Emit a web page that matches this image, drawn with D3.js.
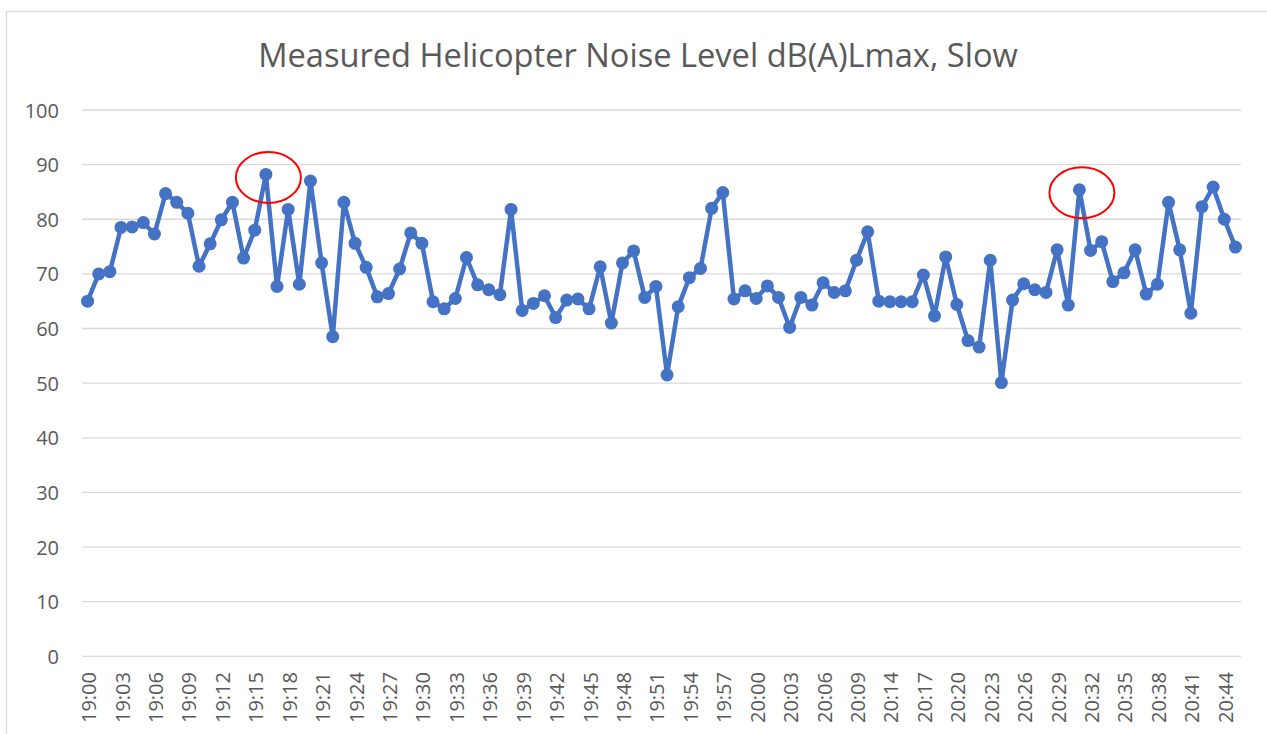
<!DOCTYPE html>
<html>
<head>
<meta charset="utf-8">
<script src="https://cdn.jsdelivr.net/npm/d3@7"></script>
<style>
  html, body { margin: 0; padding: 0; background: #fff; }
  svg { display: block; font-family: "Open Sans", "Noto Sans", sans-serif; }
  .grid line { stroke: #d9d9d9; stroke-width: 1.3; }
  .tick-label { fill: #595959; font-size: 20px; }
  .title { fill: #595959; }
</style>
</head>
<body>
<svg id="chart" width="1267" height="734"></svg>
<script>
const titleText = "Measured Helicopter Noise Level dB(A)Lmax, Slow"

// sample times (one reading per category)
const times = [
  "19:00","19:01","19:02","19:03","19:04","19:05","19:06","19:07","19:08","19:09",
  "19:10","19:11","19:12","19:13","19:14","19:15","19:16","19:17","19:18","19:19",
  "19:20","19:21","19:22","19:23","19:24","19:25","19:26","19:27","19:28","19:29",
  "19:30","19:31","19:32","19:33","19:34","19:35","19:36","19:37","19:38","19:39",
  "19:40","19:41","19:42","19:43","19:44","19:45","19:46","19:47","19:48","19:49",
  "19:50","19:51","19:52","19:53","19:54","19:55","19:56","19:57","19:58","19:59",
  "20:00","20:01","20:02","20:03","20:04","20:05","20:06","20:07","20:08","20:09",
  "20:11","20:12","20:14","20:15","20:16","20:17","20:18","20:19","20:20","20:21",
  "20:22","20:23","20:24","20:25","20:26","20:27","20:28","20:29","20:30","20:31",
  "20:32","20:33","20:34","20:35","20:36","20:37","20:38","20:39","20:40","20:41",
  "20:42","20:43","20:44","20:45"
]

// dB(A) Lmax readings
const levels = [
  65.0, 70.0, 70.4, 78.5, 78.6, 79.4, 77.3, 84.7, 83.1, 81.1,
  71.4, 75.5, 79.9, 83.1, 72.9, 78.0, 88.2, 67.7, 81.8, 68.1,
  87.0, 72.0, 58.5, 83.1, 75.6, 71.2, 65.8, 66.4, 70.9, 77.5,
  75.6, 64.9, 63.6, 65.5, 73.0, 68.0, 67.1, 66.2, 81.8, 63.3,
  64.6, 66.0, 62.0, 65.2, 65.4, 63.6, 71.3, 61.0, 72.0, 74.2,
  65.7, 67.7, 51.5, 64.0, 69.3, 71.0, 82.0, 84.9, 65.4, 66.9,
  65.5, 67.8, 65.7, 60.2, 65.7, 64.3, 68.4, 66.6, 66.9, 72.5,
  77.7, 65.0, 64.9, 64.9, 64.9, 69.8, 62.3, 73.1, 64.4, 57.8,
  56.6, 72.5, 50.1, 65.2, 68.2, 67.1, 66.6, 74.4, 64.3, 85.4,
  74.3, 75.9, 68.6, 70.2, 74.4, 66.3, 68.1, 83.1, 74.4, 62.8,
  82.3, 85.9, 80.0, 74.9
]

const yTicks = [0, 10, 20, 30, 40, 50, 60, 70, 80, 90, 100]
// every third category gets a label
const xTickLabels = times.filter((t, i) => i % 3 === 0)
// readings circled in red
const circled = ["19:16", "20:31"]

const data = times.map((t, i) => ({ t, v: levels[i] }))

const svg = d3.select("#chart")

// outer chart frame (right/bottom edges fall outside the picture)
svg.append("rect")
  .attr("x", 6.5).attr("y", 11.5).attr("width", 1400).attr("height", 900)
  .attr("fill", "#fff").attr("stroke", "#d9d9d9").attr("stroke-width", 1.3)

const x = d3.scaleBand().domain(times).range([82, 1241])
const y = d3.scaleLinear().domain([0, 100]).range([656.3, 110])
const cx = (t) => x(t) + x.bandwidth() / 2

// gridlines
svg.append("g").attr("class", "grid")
  .selectAll("line").data(yTicks).enter().append("line")
  .attr("x1", 82).attr("x2", 1241)
  .attr("y1", (d) => y(d)).attr("y2", (d) => y(d))

// y labels
svg.append("g").selectAll("text").data(yTicks).enter().append("text")
  .attr("class", "tick-label")
  .attr("x", 59).attr("y", (d) => y(d))
  .attr("text-anchor", "end").attr("dominant-baseline", "central")
  .text((d) => d)

// x labels, rotated
svg.append("g").selectAll("text").data(xTickLabels).enter().append("text")
  .attr("class", "tick-label")
  .attr("transform", (d) => `translate(${cx(d) + 1},672) rotate(-90)`)
  .attr("text-anchor", "end").attr("dominant-baseline", "central")
  .text((d) => d)

// title, fitted to the reference width
const title = svg.append("text").attr("class", "title")
  .attr("x", 638).attr("y", 67).attr("text-anchor", "middle")
  .style("font-size", "32px").text(titleText)
const tw = title.node().getComputedTextLength()
title.style("font-size", (32 * 760 / tw) + "px")

// series line
const line = d3.line().x((d) => cx(d.t)).y((d) => y(d.v))
svg.append("path").datum(data)
  .attr("d", line)
  .attr("fill", "none").attr("stroke", "#4472c4")
  .attr("stroke-width", 4.5).attr("stroke-linejoin", "round")

svg.append("g").selectAll("circle").data(data).enter().append("circle")
  .attr("cx", (d) => cx(d.t)).attr("cy", (d) => y(d.v))
  .attr("r", 6.5).attr("fill", "#4472c4")

// red highlight ellipses
svg.append("g").selectAll("ellipse").data(data.filter((d) => circled.includes(d.t)))
  .enter().append("ellipse")
  .attr("cx", (d) => cx(d.t) + 2.5).attr("cy", (d) => y(d.v) + 3)
  .attr("rx", 32.5).attr("ry", 25.5)
  .attr("fill", "none").attr("stroke", "#ff0000").attr("stroke-width", 2)
</script>
</body>
</html>
